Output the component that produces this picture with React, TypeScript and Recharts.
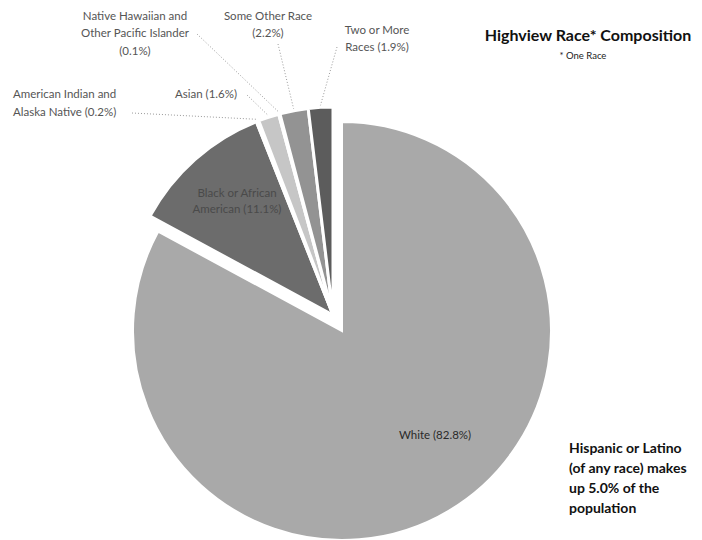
import React from 'react';
import { PieChart, Pie, Cell } from 'recharts';

// ---- data ----
const categories = [
  'White',
  'Black or African American',
  'American Indian and Alaska Native',
  'Asian',
  'Native Hawaiian and Other Pacific Islander',
  'Some Other Race',
  'Two or More Races',
];
const shares = [82.8, 11.1, 0.2, 1.6, 0.1, 2.2, 1.9];
// label text broken into lines; the percentage is appended to the last line
const labelBreaks = [
  ['White'],
  ['Black or African', 'American'],
  ['American Indian and', 'Alaska Native'],
  ['Asian'],
  ['Native Hawaiian and', 'Other Pacific Islander', ''],
  ['Some Other Race', ''],
  ['Two or More', 'Races'],
];
const titleText = 'Highview Race* Composition';
const subNote = '* One Race';
const hispanicNote = ['Hispanic or Latino', '(of any race) makes', 'up 5.0% of the', 'population'];

// ---- styles ----
const FONT = "Lato, 'Open Sans', sans-serif";
const sliceColors = ['#a9a9a9', '#6c6c6c', '#b0b0b0', '#c6c6c6', '#bbbbbb', '#939393', '#5c5c5c'];

// label layout (annotation placement, chart pixels)
type LabelPlace = { x: number; y: number; anchor: 'start' | 'middle' | 'end'; lh: number; lead?: [number, number]; color: string };
const labelPlaces: LabelPlace[] = [
  { x: 435, y: 434, anchor: 'middle', lh: 16, color: '#2a2a2a' },
  { x: 237, y: 192, anchor: 'middle', lh: 16, color: '#4a4a4a' },
  { x: 13, y: 93, anchor: 'start', lh: 18, lead: [132, 113], color: '#555' },
  { x: 175, y: 93, anchor: 'start', lh: 17, lead: [247, 95], color: '#555' },
  { x: 135, y: 15, anchor: 'middle', lh: 17.5, lead: [197, 34], color: '#555' },
  { x: 268, y: 15, anchor: 'middle', lh: 17, lead: [278, 44], color: '#555' },
  { x: 377, y: 29, anchor: 'middle', lh: 17, lead: [337, 47], color: '#555' },
];

const data = categories.map((name, i) => ({ name, value: shares[i] }));

const RAD = Math.PI / 180;

function makeLabel(group: 'white' | 'rest') {
  return (props: any) => {
    const { index, cx, cy, midAngle, outerRadius, value } = props;
    const isWhite = index === 0;
    if ((group === 'white') !== isWhite) return null;
    const place = labelPlaces[index];
    const lines = labelBreaks[index].slice();
    const last = lines.length - 1;
    lines[last] = (lines[last] ? lines[last] + ' ' : '') + `(${Number(value).toFixed(1)}%)`;
    let leader = null;
    if (place.lead) {
      const r = outerRadius + 2;
      const ex = cx + r * Math.cos(-midAngle * RAD);
      const ey = cy + r * Math.sin(-midAngle * RAD);
      leader = (
        <line x1={place.lead[0]} y1={place.lead[1]} x2={ex} y2={ey} stroke="#9a9a9a" strokeWidth={1} strokeDasharray="1 2" />
      );
    }
    return (
      <g key={`lbl-${index}`}>
        {leader}
        {lines.map((t, k) => (
          <text
            key={k}
            x={place.x}
            y={place.y + k * place.lh}
            textAnchor={place.anchor}
            dominantBaseline="central"
            fontFamily={FONT}
            fontSize={11.5}
            fill={place.color}
          >
            {t}
          </text>
        ))}
      </g>
    );
  };
}

export default function App() {
  return (
    <div style={{ position: 'absolute', left: 0, top: 0, width: 702, height: 540, background: '#fff', overflow: 'hidden' }}>
      <PieChart width={702} height={540} margin={{ top: 0, right: 0, bottom: 0, left: 0 }}>
        <Pie
          data={data}
          dataKey="value"
          nameKey="name"
          cx={342}
          cy={331}
          outerRadius={209}
          startAngle={90}
          endAngle={-270}
          stroke="none"
          isAnimationActive={false}
          label={makeLabel('white')}
          labelLine={false}
        >
          {data.map((d, i) => (
            <Cell key={d.name} fill={i === 0 ? sliceColors[i] : 'none'} stroke={i === 0 ? '#ffffff' : 'none'} strokeWidth={2} />
          ))}
        </Pie>
        <Pie
          data={data}
          dataKey="value"
          nameKey="name"
          cx={333}
          cy={315}
          outerRadius={208}
          startAngle={90}
          endAngle={-270}
          isAnimationActive={false}
          label={makeLabel('rest')}
          labelLine={false}
        >
          {data.map((d, i) => (
            <Cell key={d.name} fill={i === 0 ? 'none' : sliceColors[i]} stroke={i === 0 ? 'none' : '#ffffff'} strokeWidth={3} />
          ))}
        </Pie>
      </PieChart>
      <svg width={702} height={540} style={{ position: 'absolute', left: 0, top: 0, pointerEvents: 'none' }}>
        <text x={588} y={34} textAnchor="middle" dominantBaseline="central" fontFamily={FONT} fontWeight={700} fontSize={16} fill="#111">
          {titleText}
        </text>
        <text x={583} y={55} textAnchor="middle" dominantBaseline="central" fontFamily={FONT} fontSize={9.5} fill="#222">
          {subNote}
        </text>
        {hispanicNote.map((t, k) => (
          <text key={k} x={569} y={447 + k * 20} dominantBaseline="central" fontFamily={FONT} fontWeight={700} fontSize={14} fill="#111">
            {t}
          </text>
        ))}
      </svg>
    </div>
  );
}
